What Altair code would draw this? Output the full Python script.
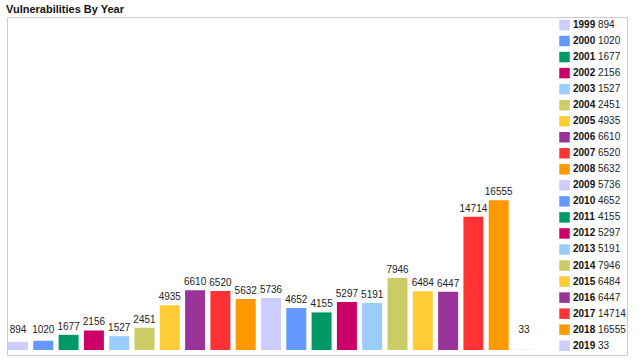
import altair as alt
import pandas as pd

years = ["1999", "2000", "2001", "2002", "2003", "2004", "2005", "2006", "2007", "2008",
         "2009", "2010", "2011", "2012", "2013", "2014", "2015", "2016", "2017", "2018", "2019"]
values = [894, 1020, 1677, 2156, 1527, 2451, 4935, 6610, 6520, 5632,
          5736, 4652, 4155, 5297, 5191, 7946, 6484, 6447, 14714, 16555, 33]
palette = ["#ccccff", "#6699ff", "#009966", "#cc0066", "#99ccff",
           "#cccc66", "#ffcc33", "#993399", "#ff3333", "#ff9900"]
colors = [palette[i % len(palette)] for i in range(len(years))]

FONT = "Liberation Sans"
df = pd.DataFrame({"year": years, "value": values})

yscale = alt.Scale(domain=[0, 36800], range=[333, 0])
xenc = alt.X("year:N", sort=years, scale=alt.Scale(range=[1, 527], paddingInner=0.21, paddingOuter=0), axis=None)
color = alt.Color("year:N", sort=years, scale=alt.Scale(domain=years, range=colors), legend=None)

bars = alt.Chart(df).mark_bar().encode(
    x=xenc,
    y=alt.Y("value:Q", scale=yscale, axis=None),
    color=color,
)

labels = alt.Chart(df).transform_calculate(
    pos="max(datum.value, 1326)"
).mark_text(baseline="alphabetic", dy=-5, fontSize=10, font=FONT, color="#222").encode(
    x=xenc,
    y=alt.Y("pos:Q", scale=yscale, axis=None),
    text=alt.Text("value:Q", format="d"),
)

leg_y = alt.Y("year:N", sort=years, scale=alt.Scale(type="point", range=[8, 328.7], padding=0), axis=None)

leg_sq = alt.Chart(df).mark_square(size=110, opacity=1).encode(
    x=alt.value(557.5), y=leg_y, color=color,
)
leg_year = alt.Chart(df).mark_text(align="left", baseline="middle", fontSize=10,
                                   fontWeight="bold", font=FONT, color="#111").encode(
    x=alt.value(566), y=leg_y, text="year:N",
)
leg_val = alt.Chart(df).mark_text(align="left", baseline="middle", fontSize=10,
                                  font=FONT, color="#222").encode(
    x=alt.value(591), y=leg_y, text=alt.Text("value:Q", format="d"),
)

chart = alt.layer(bars, labels, leg_sq, leg_year, leg_val).resolve_scale(
    y="independent"
).properties(
    width=620,
    height=338,
    padding={"left": 7, "top": 17, "right": 17, "bottom": 7},
    autosize="none",
    title=alt.TitleParams("Vulnerabilities By Year", anchor="start", frame="group",
                          fontSize=11, fontWeight="bold", font=FONT, color="#111",
                          offset=2, dx=-1),
).configure_view(stroke="#cccccc", strokeWidth=1)

chart.save("out.html", embed_options={"renderer": "svg", "actions": False})
